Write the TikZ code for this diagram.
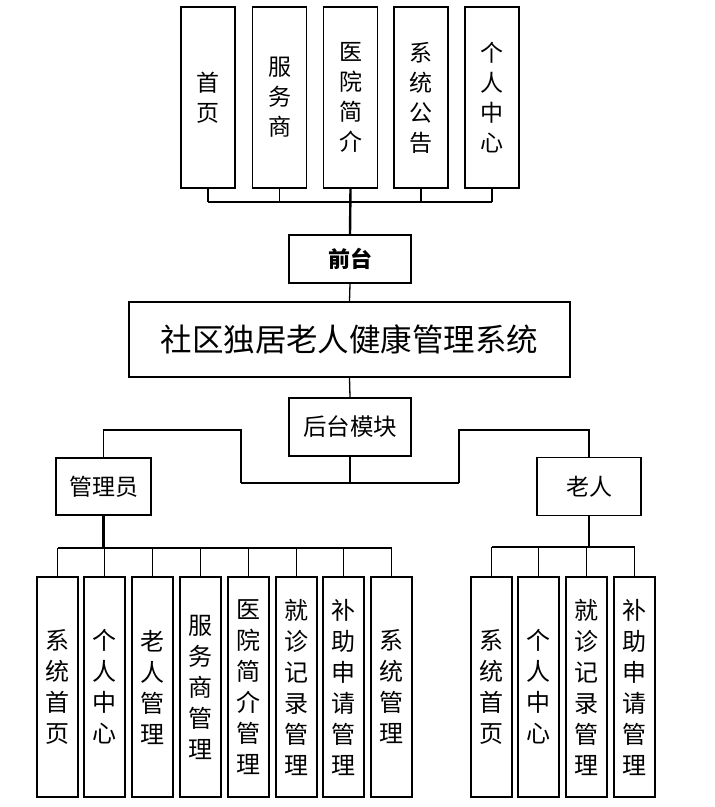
\documentclass[tikz,border=0pt]{standalone}
\usepackage{fontspec}
\newfontfamily\cjk{Noto Sans CJK SC}
\begin{document}
\begin{tikzpicture}[x=1pt,y=-1pt,
  box/.style={draw=black,line width=1.6pt,fill=white,inner sep=0pt,align=center,font=\cjk},
  topbox/.style={box,minimum width=54pt,minimum height=181pt,font=\cjk\fontsize{23}{30}\selectfont},
  lowbox/.style={box,minimum width=41pt,minimum height=220pt,font=\cjk\fontsize{24}{31}\selectfont},
  thin/.style={line width=1.3pt},
  thick/.style={line width=2.4pt}]
\useasboundingbox (0,0) rectangle (715,807);
% top modules
\node[topbox] (t1) at (208,97.5) {首\\页};
\node[topbox] (t2) at (279.5,97.5) {服\\务\\商};
\node[topbox] (t3) at (350.5,97.5) {医\\院\\简\\介};
\node[topbox] (t4) at (421,97.5) {系\\统\\公\\告};
\node[topbox] (t5) at (492,97.5) {个\\人\\中\\心};
\node[box,minimum width=122pt,minimum height=48pt,font=\cjk\bfseries\fontsize{22}{26}\selectfont] (qt) at (350,259) {前台};
\node[box,minimum width=441pt,minimum height=75pt,font=\cjk\fontsize{31.5}{35}\selectfont] (main) at (349.5,339.5) {社区独居老人健康管理系统};
\node[box,minimum width=122pt,minimum height=58pt,font=\cjk\fontsize{23.5}{27}\selectfont] (ht) at (350,427) {后台模块};
\node[box,minimum width=95pt,minimum height=57pt,font=\cjk\fontsize{23}{26}\selectfont] (gl) at (103.5,486.5) {管理员};
\node[box,minimum width=104pt,minimum height=58pt,font=\cjk\fontsize{23}{26}\selectfont] (lr) at (589,486.5) {老人};
% admin modules
\node[lowbox] (a1) at (57.5,687) {系\\统\\首\\页};
\node[lowbox] (a2) at (104.5,687) {个\\人\\中\\心};
\node[lowbox] (a3) at (152.5,687) {老\\人\\管\\理};
\node[lowbox] (a4) at (200.5,687) {服\\务\\商\\管\\理};
\node[lowbox] (a5) at (248.5,687) {医\\院\\简\\介\\管\\理};
\node[lowbox] (a6) at (296.5,687) {就\\诊\\记\\录\\管\\理};
\node[lowbox] (a7) at (343.5,687) {补\\助\\申\\请\\管\\理};
\node[lowbox] (a8) at (391.5,687) {系\\统\\管\\理};
% elder modules
\node[lowbox] (e1) at (491.5,687) {系\\统\\首\\页};
\node[lowbox] (e2) at (538.5,687) {个\\人\\中\\心};
\node[lowbox] (e3) at (586.5,687) {就\\诊\\记\\录\\管\\理};
\node[lowbox] (e4) at (634.5,687) {补\\助\\申\\请\\管\\理};
% bus coordinates
\coordinate (tb) at (350,202);
\coordinate (ab) at (104,548);
\coordinate (eb) at (589,547);
\coordinate (jl) at (241,483);
\coordinate (jr) at (459,483);
\coordinate (gu) at (103.5,430);
\coordinate (lu) at (589,430);
% top connectors
\draw[thin] (t1.south |- tb) -- (t5.south |- tb);
\foreach \n in {t1,t2,t4,t5} \draw[thin] (\n.south) -- (\n.south |- tb);
\draw[thick] (t3.south) -- (qt.north);
\draw[thin] (qt.south) -- (main.north);
\draw[thin] (main.south) -- (ht.north);
\draw[thick] (ht.south) -- (ht.south |- jl);
\draw[thin] (jl) -- (jr);
\draw[thin] (gl.north) -- (gu) -- (jl |- gu) -- (jl);
\draw[thin] (lr.north) -- (lu) -- (jr |- lu) -- (jr);
% admin bus
\draw[thick] (gl.south) -- (gl.south |- ab);
\draw[thick] (a1.north |- ab) -- (a8.north |- ab);
\foreach \n in {a1,a2,a3,a4,a5,a6,a7,a8} \draw[thin] (\n.north) -- (\n.north |- ab);
% elder bus
\draw[thick] (lr.south) -- (lr.south |- eb);
\draw[thick] (e1.north |- eb) -- (e4.north |- eb);
\foreach \n in {e1,e2,e3,e4} \draw[thin] (\n.north) -- (\n.north |- eb);
\end{tikzpicture}
\end{document}
